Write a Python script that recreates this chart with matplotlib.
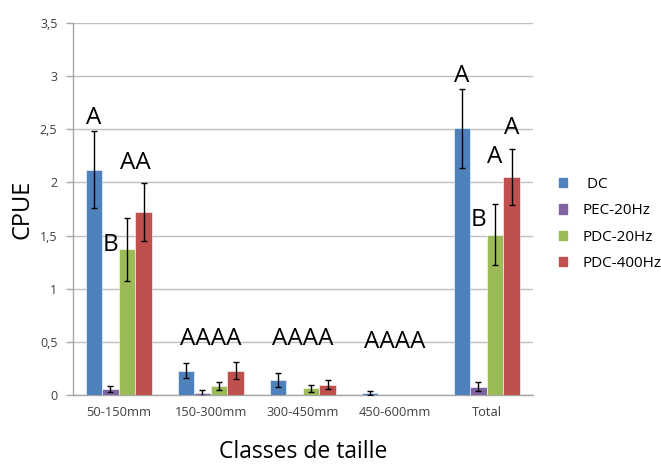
import numpy as np
import matplotlib.pyplot as plt
import matplotlib.patches as mpatches

plt.rcParams['font.family'] = ['Open Sans', 'DejaVu Sans']

categories = ['50-150mm', '150-300mm', '300-450mm', '450-600mm', 'Total']
series = ['DC', 'PEC-20Hz', 'PDC-20Hz', 'PDC-400Hz']
colors = ['#4F81BD', '#8064A2', '#9BBB59', '#C0504D']

dc = [2.12, 0.23, 0.14, 0.02, 2.51]
dc_err = [0.36, 0.07, 0.065, 0.015, 0.37]
pec = [0.06, 0.02, 0.0, 0.0, 0.08]
pec_err = [0.03, 0.025, 0.0, 0.0, 0.04]
pdc20 = [1.37, 0.085, 0.063, 0.0, 1.51]
pdc20_err = [0.30, 0.04, 0.035, 0.0, 0.29]
pdc400 = [1.72, 0.23, 0.10, 0.0, 2.05]
pdc400_err = [0.27, 0.08, 0.045, 0.0, 0.26]

values = [dc, pec, pdc20, pdc400]
errors = [dc_err, pec_err, pdc20_err, pdc400_err]

# significance letters: (category, bar position offset in bar widths, text, y)
letters = [
    (0, -1.5, 'A', 2.61),
    (0, -0.5, 'B', 1.41),
    (0, 1.0, 'AA', 2.18),
    (1, 0.0, 'AAAA', 0.53),
    (2, 0.0, 'AAAA', 0.53),
    (3, 0.0, 'AAAA', 0.50),
    (4, -1.5, 'A', 3.00),
    (4, -0.5, 'B', 1.65),
    (4, 0.5, 'A', 2.24),
    (4, 1.5, 'A', 2.51),
]

fig = plt.figure(figsize=(6.61, 4.66), dpi=100)
ax = fig.add_axes([0.110, 0.152, 0.696, 0.799])

x = np.arange(len(categories))
w = 0.18
for k, (vals, errs, col, name) in enumerate(zip(values, errors, colors, series)):
    pos = x + (k - 1.5) * w
    ax.bar(pos, vals, width=w, color=col, edgecolor='white', linewidth=0.4,
           label=name, zorder=3)
    for p, v, e in zip(pos, vals, errs):
        if v > 0:
            ax.errorbar(p, v, yerr=e, fmt='none', ecolor='black',
                        elinewidth=1.0, capsize=2.5, capthick=1.0, zorder=4)

for cat, off, txt, yy in letters:
    ax.text(cat + off * w, yy, txt, ha='center', va='center', fontsize=17.5,
            color='black', zorder=5)

ax.set_xlim(-0.5, 4.5)
ax.set_ylim(0, 3.5)
ax.set_yticks(np.arange(0, 3.51, 0.5))
ax.set_yticklabels(['0', '0,5', '1', '1,5', '2', '2,5', '3', '3,5'],
                   fontsize=9, color='#404040')
ax.set_xticks(x)
ax.set_xticklabels(categories, fontsize=9.3, color='#404040')
ax.tick_params(axis='x', length=0, pad=8)
ax.tick_params(axis='y', length=5, color='#A6A6A6', width=1, pad=6)
ax.yaxis.grid(True, color='#BFBFBF', linewidth=1.0, zorder=0)
ax.set_axisbelow(True)
for s in ['top', 'right']:
    ax.spines[s].set_visible(False)
ax.spines['left'].set_color('#A6A6A6')
ax.spines['bottom'].set_color('#A6A6A6')
ax.spines['left'].set_linewidth(1.0)
ax.spines['bottom'].set_linewidth(1.0)

ax.set_ylabel('CPUE', fontsize=17, labelpad=4)
ax.set_xlabel('Classes de taille', fontsize=16.5, labelpad=15)

handles = [mpatches.Patch(color=c, label=(' ' + n if n == 'DC' else n))
           for c, n in zip(colors, series)]
fig.legend(handles=handles, loc='upper left', bbox_to_anchor=(0.825, 0.65),
           frameon=False, fontsize=11, handlelength=0.55, handleheight=0.55,
           handletextpad=1.0, labelspacing=0.75)

fig.savefig('out.png', dpi=100)
